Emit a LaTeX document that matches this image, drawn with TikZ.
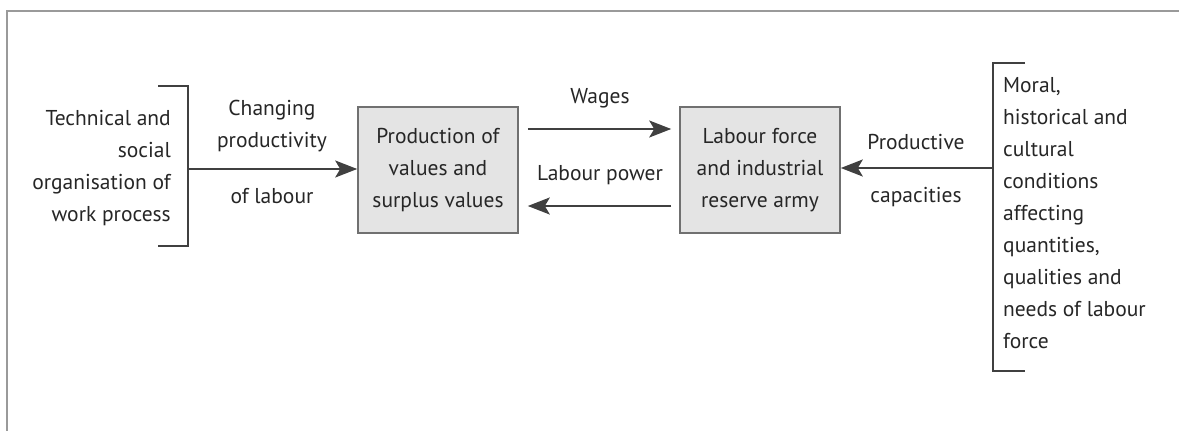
\documentclass[tikz,border=0pt]{standalone}
\usepackage{fontspec}
\setmainfont{PT Sans}
\usetikzlibrary{arrows.meta}
\definecolor{linegray}{HTML}{404040}
\definecolor{framegray}{HTML}{9A9A9A}
\definecolor{boxfill}{HTML}{E4E4E4}
\definecolor{boxline}{HTML}{707070}
\definecolor{txt}{HTML}{262626}
\tikzset{
  box/.style={draw=boxline, line width=1.6pt, fill=boxfill, minimum width=160pt, minimum height=126pt, inner sep=0pt, align=center, text=txt, font=\fontsize{21.5}{32}\selectfont},
  lbl/.style={align=center, text=txt, font=\fontsize{21.5}{32}\selectfont, inner sep=0pt},
  conn/.style={draw=linegray, line width=2.2pt, -{Stealth[length=22pt,width=17pt,inset=5pt]}},
  brk/.style={draw=linegray, line width=2pt},
}
\begin{document}
\begin{tikzpicture}[x=1pt,y=-1pt]
\useasboundingbox (0,0) rectangle (1179,431);
\draw[framegray, line width=2pt] (7,431) -- (7,11) -- (1179,11);
% boxes
\node[box] (p) at (438,170) {Production of\\values and\\surplus values};
\node[box] (l) at (760,170) {Labour force\\and industrial\\reserve army};
% left bracket and text
\node[lbl, align=right, anchor=east] (lt) at (171,168) {Technical and\\social\\organisation of\\work process};
\draw[brk] (158,86) -- (188,86) -- (188,246) -- (158,246);
\coordinate (lb) at (188,169);
\draw[conn] (lb) -- (p.west |- lb);
\node[lbl] (cp) at (272,126) {Changing\\productivity};
\node[lbl] (ol) at (272,196) {of labour};
% middle arrows
\draw[conn, shorten <=9pt, shorten >=8pt] ([yshift=41pt]p.east) -- ([yshift=41pt]l.west);
\node[lbl] (w) at (600,98) {Wages};
\draw[conn, shorten <=8pt, shorten >=9pt] ([yshift=-36pt]l.west) -- ([yshift=-36pt]p.east);
\node[lbl] (lp) at (600,175) {Labour power};
% right bracket and text
\draw[brk] (1025,63) -- (993,63) -- (993,371) -- (1025,371);
\coordinate (rb) at (993,168);
\draw[conn] (rb) -- (l.east |- rb);
\node[lbl] (pc) at (916,142) {Productive};
\node[lbl] (ca) at (916,197) {capacities};
\node[lbl, align=left, anchor=west] (rt) at (1003,213) {Moral,\\historical and\\cultural\\conditions\\affecting\\quantities,\\qualities and\\needs of labour\\force};
\end{tikzpicture}
\end{document}
